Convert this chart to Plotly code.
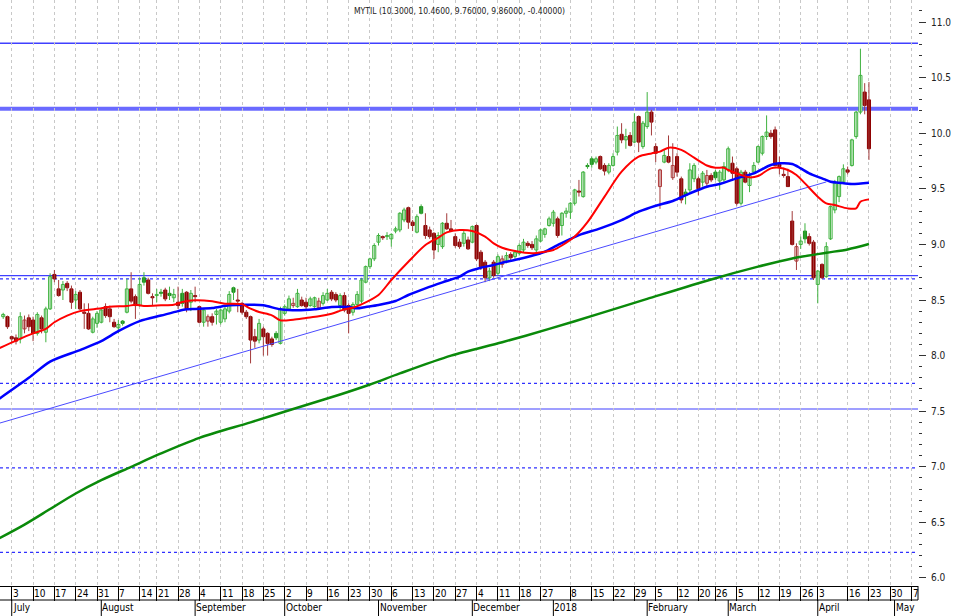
import numpy as np
import pandas as pd
import plotly.graph_objects as go

# ---------------- data ----------------
opens = [8.35, 8.35, 8.17, 8.16, 8.15, 8.24, 8.34, 8.32, 8.20, 8.34,
         8.21, 8.42, 8.73, 8.60, 8.59, 8.65, 8.60, 8.50, 8.57, 8.39,
         8.38, 8.21, 8.29, 8.30, 8.44, 8.42, 8.30, 8.25, 8.31, 8.39,
         8.60, 8.53, 8.45, 8.70, 8.68, 8.53, 8.54, 8.57, 8.59, 8.56,
         8.52, 8.48, 8.56, 8.57, 8.48, 8.54, 8.44, 8.30, 8.31, 8.35,
         8.37, 8.30, 8.33, 8.40, 8.61, 8.50, 8.47, 8.39, 8.35, 8.17,
         8.14, 8.24, 8.20, 8.15, 8.20, 8.11, 8.38, 8.42, 8.45, 8.44,
         8.50, 8.48, 8.45, 8.44, 8.43, 8.47, 8.50, 8.57, 8.55, 8.45,
         8.54, 8.45, 8.39, 8.46, 8.49, 8.66, 8.80, 8.87, 9.02, 9.07,
         9.07, 9.05, 9.12, 9.13, 9.22, 9.33, 9.20, 9.11, 9.34, 9.17,
         9.13, 9.10, 9.00, 8.98, 9.19, 9.14, 9.07, 9.02, 9.01, 9.04,
         9.02, 9.17, 8.93, 8.84, 8.70, 8.84, 8.74, 8.82, 8.85, 8.91,
         8.89, 8.92, 8.95, 9.01, 9.00, 8.95, 9.03, 9.09, 9.17, 9.19,
         9.23, 9.17, 9.28, 9.29, 9.37, 9.48, 9.43, 9.71, 9.77, 9.74,
         9.79, 9.71, 9.65, 9.71, 9.83, 9.99, 9.94, 9.98, 9.92, 10.15,
         9.88, 10.06, 10.19, 9.88, 9.52, 9.74, 9.79, 9.60, 9.79, 9.59,
         9.47, 9.49, 9.59, 9.59, 9.56, 9.55, 9.62, 9.65, 9.57, 9.58,
         9.67, 9.73, 9.68, 9.37, 9.65, 9.53, 9.65, 9.74, 9.82, 9.97,
         10.00, 10.03, 9.72, 9.63, 9.61, 9.21, 8.85, 9.00, 9.12, 9.07,
         9.02, 8.64, 8.82, 8.71, 9.05, 9.31, 9.43, 9.56, 9.67, 9.71,
         9.97, 10.19, 10.37, 10.30]
highs = [8.385, 8.36, 8.18, 8.19, 8.39, 8.36, 8.37, 8.35, 8.39, 8.36,
         8.44, 8.74, 8.77, 8.68, 8.67, 8.67, 8.63, 8.58, 8.59, 8.47,
         8.47, 8.35, 8.40, 8.42, 8.47, 8.45, 8.33, 8.32, 8.32, 8.69,
         8.75, 8.55, 8.70, 8.75, 8.70, 8.56, 8.60, 8.60, 8.61, 8.62,
         8.60, 8.62, 8.60, 8.58, 8.59, 8.62, 8.45, 8.42, 8.37, 8.38,
         8.42, 8.42, 8.44, 8.58, 8.62, 8.60, 8.48, 8.41, 8.36, 8.24,
         8.33, 8.26, 8.21, 8.17, 8.22, 8.44, 8.46, 8.54, 8.52, 8.60,
         8.53, 8.52, 8.53, 8.53, 8.52, 8.57, 8.60, 8.59, 8.57, 8.56,
         8.57, 8.47, 8.48, 8.58, 8.70, 8.81, 8.88, 9.01, 9.10, 9.08,
         9.11, 9.10, 9.16, 9.29, 9.33, 9.34, 9.22, 9.27, 9.36, 9.28,
         9.16, 9.11, 9.11, 9.20, 9.28, 9.22, 9.10, 9.05, 9.12, 9.07,
         9.17, 9.18, 8.95, 8.86, 8.79, 8.86, 8.91, 8.90, 8.93, 8.93,
         8.95, 9.01, 9.05, 9.03, 9.03, 9.08, 9.14, 9.15, 9.25, 9.31,
         9.25, 9.29, 9.33, 9.38, 9.50, 9.58, 9.66, 9.73, 9.79, 9.79,
         9.80, 9.73, 9.73, 9.82, 10.06, 10.09, 10.04, 10.01, 10.18, 10.16,
         10.11, 10.37, 10.21, 9.91, 9.68, 9.85, 9.98, 9.91, 9.82, 9.61,
         9.50, 9.73, 9.73, 9.61, 9.66, 9.67, 9.64, 9.67, 9.67, 9.74,
         9.88, 9.79, 9.70, 9.67, 9.67, 9.65, 9.74, 9.89, 9.98, 10.16,
         10.03, 10.06, 9.79, 9.69, 9.68, 9.30, 9.01, 9.07, 9.19, 9.10,
         9.04, 8.77, 8.83, 9.02, 9.35, 9.58, 9.62, 9.72, 9.70, 9.95,
         10.20, 10.76, 10.45, 10.46]
lows = [8.33, 8.24, 8.12, 8.10, 8.11, 8.20, 8.22, 8.13, 8.18, 8.20,
        8.12, 8.41, 8.66, 8.53, 8.50, 8.58, 8.42, 8.42, 8.41, 8.24,
        8.23, 8.20, 8.25, 8.29, 8.34, 8.30, 8.25, 8.20, 8.27, 8.38,
        8.47, 8.33, 8.44, 8.63, 8.55, 8.45, 8.48, 8.53, 8.49, 8.50,
        8.48, 8.42, 8.44, 8.39, 8.40, 8.48, 8.29, 8.26, 8.26, 8.27,
        8.28, 8.28, 8.30, 8.38, 8.50, 8.39, 8.37, 8.33, 7.93, 8.07,
        8.11, 8.00, 8.00, 8.08, 8.14, 8.10, 8.36, 8.41, 8.43, 8.43,
        8.44, 8.42, 8.44, 8.43, 8.41, 8.45, 8.49, 8.49, 8.48, 8.40,
        8.39, 8.20, 8.36, 8.45, 8.47, 8.65, 8.78, 8.85, 8.99, 9.04,
        9.04, 8.98, 9.10, 9.11, 9.20, 9.14, 9.12, 9.10, 9.27, 9.05,
        9.05, 8.87, 8.93, 8.96, 9.13, 9.11, 8.97, 8.96, 8.98, 8.95,
        9.01, 8.85, 8.77, 8.66, 8.67, 8.70, 8.72, 8.79, 8.83, 8.85,
        8.87, 8.90, 8.93, 8.97, 8.95, 8.93, 9.02, 9.06, 9.16, 9.16,
        9.06, 9.08, 9.24, 9.23, 9.35, 9.43, 9.42, 9.68, 9.69, 9.72,
        9.67, 9.62, 9.63, 9.70, 9.80, 9.91, 9.86, 9.88, 9.91, 9.83,
        9.86, 10.04, 9.98, 9.74, 9.32, 9.73, 9.73, 9.58, 9.61, 9.37,
        9.36, 9.47, 9.56, 9.44, 9.52, 9.52, 9.56, 9.58, 9.49, 9.55,
        9.65, 9.58, 9.35, 9.35, 9.55, 9.47, 9.63, 9.73, 9.80, 9.94,
        9.95, 9.70, 9.63, 9.60, 9.52, 8.99, 8.77, 8.96, 9.01, 8.99,
        8.68, 8.47, 8.69, 8.70, 9.04, 9.28, 9.38, 9.55, 9.63, 9.70,
        9.95, 10.17, 10.17, 9.76]
closes = [8.37, 8.26, 8.15, 8.13, 8.35, 8.32, 8.26, 8.20, 8.37, 8.24,
          8.42, 8.71, 8.69, 8.54, 8.64, 8.61, 8.48, 8.55, 8.42, 8.38,
          8.24, 8.33, 8.38, 8.41, 8.36, 8.35, 8.26, 8.28, 8.29, 8.60,
          8.49, 8.45, 8.64, 8.66, 8.56, 8.52, 8.55, 8.56, 8.51, 8.54,
          8.55, 8.45, 8.47, 8.42, 8.56, 8.53, 8.30, 8.41, 8.35, 8.30,
          8.40, 8.41, 8.42, 8.55, 8.57, 8.49, 8.39, 8.35, 8.14, 8.13,
          8.29, 8.17, 8.11, 8.10, 8.16, 8.42, 8.44, 8.51, 8.47, 8.56,
          8.45, 8.44, 8.51, 8.52, 8.49, 8.54, 8.56, 8.51, 8.50, 8.54,
          8.41, 8.38, 8.46, 8.55, 8.68, 8.80, 8.87, 8.99, 9.08, 9.06,
          9.08, 9.09, 9.14, 9.28, 9.31, 9.20, 9.17, 9.25, 9.28, 9.08,
          9.07, 8.95, 9.08, 9.19, 9.14, 9.12, 8.99, 8.98, 9.10, 8.96,
          9.16, 8.87, 8.80, 8.70, 8.76, 8.72, 8.89, 8.87, 8.90, 8.88,
          8.93, 8.99, 9.02, 8.99, 8.97, 9.05, 9.13, 9.14, 9.23, 9.29,
          9.08, 9.28, 9.30, 9.37, 9.49, 9.47, 9.65, 9.70, 9.72, 9.77,
          9.68, 9.66, 9.71, 9.79, 9.98, 9.94, 9.97, 9.89, 10.10, 9.92,
          10.09, 10.19, 10.10, 9.82, 9.67, 9.80, 9.74, 9.71, 9.65, 9.40,
          9.44, 9.67, 9.71, 9.50, 9.64, 9.62, 9.58, 9.60, 9.65, 9.70,
          9.86, 9.64, 9.37, 9.65, 9.56, 9.62, 9.71, 9.88, 9.97, 10.01,
          9.97, 9.71, 9.70, 9.62, 9.52, 9.00, 8.98, 9.03, 9.05, 9.01,
          8.70, 8.76, 8.70, 8.98, 9.34, 9.55, 9.61, 9.68, 9.65, 9.94,
          10.19, 10.52, 10.25, 9.86]

# moving averages (trading-day index, value)
ma_red_idx = [-1, 3, 7, 10, 12, 15, 18, 23, 25, 29, 31, 33, 37, 40, 42, 45, 49, 52, 56, 58,
              60, 63, 65, 68, 71, 74, 77, 80, 82, 84, 88, 91, 95, 99, 102, 104, 107, 110, 113, 115,
              117, 120, 124, 127, 129, 131, 134, 137, 141, 145, 149, 152, 154, 156, 159, 162, 165, 167, 169, 170,
              173, 175, 177, 180, 182, 184, 186, 188, 191, 193, 195, 198, 200, 201, 203]
ma_red_val = [8.065, 8.135, 8.20, 8.24, 8.30, 8.36, 8.40, 8.425, 8.44, 8.446, 8.458, 8.446, 8.452, 8.458, 8.482, 8.497, 8.488, 8.467, 8.461, 8.422,
              8.392, 8.362, 8.317, 8.323, 8.338, 8.353, 8.377, 8.416, 8.43, 8.46, 8.545, 8.68, 8.844, 8.994, 9.06, 9.108, 9.129, 9.12, 9.07, 9.01,
              8.97, 8.94, 8.92, 8.935, 8.95, 8.99, 9.07, 9.20, 9.43, 9.654, 9.789, 9.818, 9.834, 9.87, 9.85, 9.78, 9.71, 9.69, 9.69, 9.669,
              9.624, 9.603, 9.615, 9.684, 9.690, 9.669, 9.624, 9.549, 9.429, 9.369, 9.354, 9.324, 9.324, 9.384, 9.405]
ma_blue_idx = [-1, 6, 11, 18, 23, 27, 32, 37, 41, 43, 45, 49, 53, 57, 61, 65, 69, 73, 77, 81,
               83, 85, 88, 92, 95, 99, 103, 107, 109, 112, 115, 118, 121, 124, 127, 130, 135, 140, 145, 149,
               153, 157, 161, 165, 168, 172, 176, 180, 182, 185, 187, 189, 192, 194, 196, 199, 203]
ma_blue_val = [7.61, 7.80, 7.946, 8.05, 8.13, 8.22, 8.31, 8.36, 8.40, 8.416, 8.42, 8.428, 8.452, 8.458, 8.452, 8.416, 8.407, 8.416, 8.437, 8.437,
               8.425, 8.437, 8.455, 8.491, 8.545, 8.605, 8.659, 8.710, 8.755, 8.79, 8.815, 8.844, 8.868, 8.898, 8.934, 8.994, 9.084, 9.144, 9.219, 9.294,
               9.348, 9.39, 9.459, 9.519, 9.543, 9.594, 9.639, 9.714, 9.729, 9.723, 9.684, 9.639, 9.594, 9.564, 9.555, 9.543, 9.555]
ma_green_idx = [-1, 5, 11, 17, 23, 30, 37, 46, 58, 68, 79, 86, 93, 105, 117, 128, 140, 151, 166, 177, 185, 193, 198, 203]
ma_green_val = [6.355, 6.48, 6.62, 6.76, 6.88, 7.00, 7.12, 7.26, 7.40, 7.52, 7.65, 7.74, 7.84, 8.00, 8.12, 8.24, 8.38, 8.51, 8.685, 8.80, 8.874, 8.925, 8.955, 9.003]

trend_idx = [-1, 193]
trend_val = [7.391, 9.562]

levels_solid = [10.81, 8.72, 7.52]
level_thick = 10.22
levels_dotted = [8.69, 7.75, 6.99, 6.23]

holidays = ["2017-08-15", "2017-12-25", "2017-12-26", "2018-01-01", "2018-02-19",
            "2018-03-30", "2018-04-02", "2018-04-06", "2018-04-09"]
first_day, last_future_day = "2017-06-29", "2018-05-31"
title_text = "MYTIL (10.3000, 10.4600, 9.76000, 9.86000, -0.40000)"
month_names = ["January", "February", "March", "April", "May", "June", "July",
               "August", "September", "October", "November", "December"]

# ---------------- calendar ----------------
cal = pd.bdate_range(first_day, last_future_day)
cal = cal[~cal.isin(pd.to_datetime(holidays))]
X_MIN, X_MAX = -0.75, 214.5
n = len(closes)
idx = np.arange(n)

week_ticks, last = [], None
first_week = tuple(cal[0].isocalendar()[:2])
for i, d in enumerate(cal):
    if i > X_MAX:
        break
    wk = tuple(d.isocalendar()[:2])
    if wk == first_week:
        continue
    if tuple(cal[i - 1].isocalendar()[:2]) != wk:
        if last is None or i - last >= 4:
            week_ticks.append(i)
            last = i
month_ticks = [i for i in range(1, len(cal)) if i <= X_MAX and cal[i].month != cal[i - 1].month]

# ---------------- candle groups ----------------
O, H, L, C = map(np.array, (opens, highs, lows, closes))
prevC = np.concatenate([[-np.inf], C[:-1]])
GREEN = "#3fb23f"
GREEN_FILL = "#1d8f1d"
RED = "#8e0000"
RED_WICK = "#a33a3a"
groups = [
    ((C >= O) & (C >= prevC), "white", GREEN, GREEN),
    ((C < O) & (C >= prevC), GREEN_FILL, GREEN_FILL, GREEN),
    ((C < O) & (C < prevC), RED, RED, RED_WICK),
    ((C >= O) & (C < prevC), "white", "#b03a3a", RED_WICK),
]

fig = go.Figure()

# wicks
for color in (GREEN, RED_WICK):
    xs, ys = [], []
    for mask, fill, edge, wick in groups:
        if wick != color:
            continue
        for i in idx[mask]:
            xs += [i, i, None]
            ys += [L[i], H[i], None]
    fig.add_trace(go.Scatter(x=xs, y=ys, mode="lines", line=dict(color=color, width=1),
                             hoverinfo="skip", showlegend=False))

# bodies
for mask, fill, edge, wick in groups:
    ii = idx[mask]
    base = np.minimum(O[mask], C[mask])
    hgt = np.maximum(np.abs(C[mask] - O[mask]), 0.006)
    fig.add_trace(go.Bar(x=ii, y=hgt, base=base, width=0.72,
                         marker=dict(color=fill, line=dict(color=edge, width=1)),
                         showlegend=False, hoverinfo="skip"))

# trend line & moving averages
fig.add_trace(go.Scatter(x=trend_idx, y=trend_val, mode="lines",
                         line=dict(color="#4a4aff", width=1), showlegend=False, hoverinfo="skip"))
fig.add_trace(go.Scatter(x=ma_green_idx, y=ma_green_val, mode="lines",
                         line=dict(color="#0a8a0a", width=2.5, shape="spline", smoothing=0.8),
                         showlegend=False, hoverinfo="skip"))
fig.add_trace(go.Scatter(x=ma_blue_idx, y=ma_blue_val, mode="lines",
                         line=dict(color="#0000ff", width=2.5, shape="spline", smoothing=0.8),
                         showlegend=False, hoverinfo="skip"))
fig.add_trace(go.Scatter(x=ma_red_idx, y=ma_red_val, mode="lines",
                         line=dict(color="#ff0000", width=2, shape="spline", smoothing=0.8),
                         showlegend=False, hoverinfo="skip"))

# ---------------- shapes ----------------
shapes = []
for v in levels_solid:
    shapes.append(dict(type="line", xref="paper", yref="y", x0=0, x1=1, y0=v, y1=v,
                       line=dict(color="#4040ff", width=1.5 if v > 10 else 1.2), layer="below"))
shapes.append(dict(type="line", xref="paper", yref="y", x0=0, x1=1, y0=level_thick, y1=level_thick,
                   line=dict(color="rgba(80,80,255,0.85)", width=4), layer="below"))
for v in levels_dotted:
    shapes.append(dict(type="line", xref="paper", yref="y", x0=0, x1=1, y0=v, y1=v,
                       line=dict(color="#3030ff", width=1.3, dash="dot"), layer="below"))

PLOT_H = 586.0
row1 = -14 / PLOT_H
row2 = -30 / PLOT_H
shapes.append(dict(type="line", xref="paper", yref="paper", x0=0, x1=1, y0=row1, y1=row1,
                   line=dict(color="black", width=1)))
shapes.append(dict(type="line", xref="paper", yref="paper", x0=1, x1=1, y0=0, y1=row1,
                   line=dict(color="black", width=1)))
for i in month_ticks:
    shapes.append(dict(type="line", xref="x", yref="paper", x0=i, x1=i, y0=row1, y1=row2,
                       line=dict(color="black", width=1)))

# ---------------- labels ----------------
LBL_FONT = "DejaVu Sans Condensed, Liberation Sans Narrow, Liberation Sans, sans-serif"
annotations = [dict(text=title_text, xref="paper", yref="paper", x=460 / 918, y=1 - 11 / PLOT_H,
                    showarrow=False, xanchor="center", yanchor="middle",
                    font=dict(family=LBL_FONT, size=8.5, color="#222222"))]
for i in week_ticks:
    annotations.append(dict(text=str(cal[i].day), xref="x", yref="paper", x=i, y=-7 / PLOT_H,
                            showarrow=False, xanchor="left", yanchor="middle", xshift=-1,
                            font=dict(family=LBL_FONT, size=10, color="black")))
for i in month_ticks:
    d = cal[i]
    txt = str(d.year) if d.month == 1 else month_names[d.month - 1]
    annotations.append(dict(text=txt, xref="x", yref="paper", x=i, y=-22 / PLOT_H,
                            showarrow=False, xanchor="left", yanchor="middle", xshift=-1,
                            font=dict(family=LBL_FONT, size=10, color="black")))

fig.update_layout(
    width=953, height=616,
    margin=dict(l=0, r=35, t=0, b=30, autoexpand=False),
    paper_bgcolor="white", plot_bgcolor="white",
    barmode="overlay", showlegend=False,
    shapes=shapes, annotations=annotations,
    xaxis=dict(range=[X_MIN, X_MAX], tickmode="array", tickvals=week_ticks,
               showticklabels=False, ticks="outside", ticklen=14, tickcolor="black", tickwidth=1,
               showgrid=True, gridcolor="#c8c8c8", griddash="dot", gridwidth=1,
               zeroline=False, showline=True, linecolor="black", linewidth=1, fixedrange=True),
    yaxis=dict(side="right", range=[5.928, 11.198], tick0=6, dtick=0.5, tickformat=".1f",
               ticks="outside", ticklen=7, tickcolor="#333333", tickwidth=1,
               ticklabelstandoff=3, automargin=False,
               tickfont=dict(family=LBL_FONT, size=10, color="#222222"),
               minor=dict(dtick=0.1, tick0=6, ticks="outside", ticklen=3,
                          tickcolor="#333333", showgrid=False),
               showgrid=False, zeroline=False, showline=False, fixedrange=True),
)

fig.write_html("out.html", config={"displayModeBar": False},
               post_script="document.body.style.margin='0';document.body.style.overflow='hidden';")
